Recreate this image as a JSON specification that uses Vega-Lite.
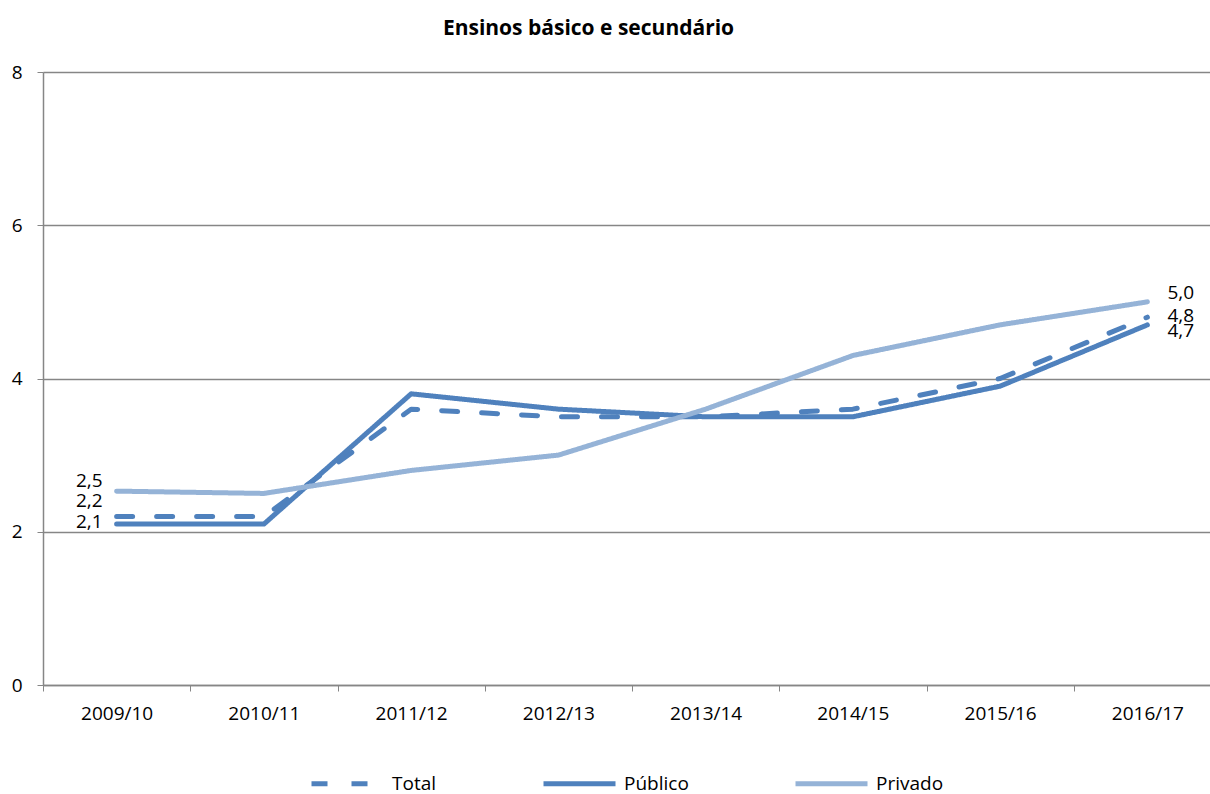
{
  "$schema": "https://vega.github.io/schema/vega-lite/v6.json",
  "autosize": {"type": "none"},
  "width": 1167,
  "height": 613,
  "padding": {"left": 43, "top": 72, "right": 0, "bottom": 109},
  "background": "white",
  "config": {
    "locale": {"number": {"decimal": ",", "thousands": ".", "grouping": [3], "currency": ["", " €"]}},
    "view": {"stroke": null},
    "font": "Open Sans"
  },
  "title": {
    "text": "Ensinos básico e secundário",
    "fontSize": 21,
    "fontWeight": "bold",
    "font": "Open Sans",
    "color": "black",
    "anchor": "middle",
    "dx": -38,
    "offset": 24
  },
  "data": {
    "values": [
      {"ano": "2009/10", "serie": "Total", "valor": 2.2},
      {"ano": "2010/11", "serie": "Total", "valor": 2.2},
      {"ano": "2011/12", "serie": "Total", "valor": 3.6},
      {"ano": "2012/13", "serie": "Total", "valor": 3.5},
      {"ano": "2013/14", "serie": "Total", "valor": 3.5},
      {"ano": "2014/15", "serie": "Total", "valor": 3.6},
      {"ano": "2015/16", "serie": "Total", "valor": 4.0},
      {"ano": "2016/17", "serie": "Total", "valor": 4.8},
      {"ano": "2009/10", "serie": "Público", "valor": 2.1},
      {"ano": "2010/11", "serie": "Público", "valor": 2.1},
      {"ano": "2011/12", "serie": "Público", "valor": 3.8},
      {"ano": "2012/13", "serie": "Público", "valor": 3.6},
      {"ano": "2013/14", "serie": "Público", "valor": 3.5},
      {"ano": "2014/15", "serie": "Público", "valor": 3.5},
      {"ano": "2015/16", "serie": "Público", "valor": 3.9},
      {"ano": "2016/17", "serie": "Público", "valor": 4.7},
      {"ano": "2009/10", "serie": "Privado", "valor": 2.53},
      {"ano": "2010/11", "serie": "Privado", "valor": 2.5},
      {"ano": "2011/12", "serie": "Privado", "valor": 2.8},
      {"ano": "2012/13", "serie": "Privado", "valor": 3.0},
      {"ano": "2013/14", "serie": "Privado", "valor": 3.6},
      {"ano": "2014/15", "serie": "Privado", "valor": 4.3},
      {"ano": "2015/16", "serie": "Privado", "valor": 4.7},
      {"ano": "2016/17", "serie": "Privado", "valor": 5.0}
    ]
  },
  "encoding": {
    "x": {
      "field": "ano",
      "type": "nominal",
      "sort": null,
      "title": null,
      "scale": {"type": "band", "paddingInner": 0, "paddingOuter": 0, "range": [0, 1178]},
      "axis": {
        "labelAngle": 0,
        "labelFontSize": 19,
        "labelColor": "black",
        "labelFont": "Open Sans",
        "labelPadding": 13,
        "tickBand": "extent",
        "tickSize": 6,
        "tickColor": "#868686",
        "domainColor": "#868686",
        "domainWidth": 1.5,
        "grid": false
      }
    },
    "y": {
      "field": "valor",
      "type": "quantitative",
      "title": null,
      "scale": {"domain": [0, 8], "nice": false, "zero": true},
      "axis": {
        "values": [0, 2, 4, 6, 8],
        "format": "d",
        "labelFontSize": 19,
        "labelColor": "black",
        "labelFont": "Open Sans",
        "labelPadding": 15,
        "tickSize": 6,
        "tickColor": "#868686",
        "domainColor": "#868686",
        "domainWidth": 1.5,
        "gridColor": "#868686",
        "gridWidth": 1.5
      }
    }
  },
  "layer": [
    {
      "mark": {"type": "line", "strokeWidth": 5, "strokeCap": "round", "strokeJoin": "round"},
      "encoding": {
        "color": {
          "field": "serie",
          "type": "nominal",
          "scale": {"domain": ["Total", "Público", "Privado"], "range": ["#4F81BD", "#4F81BD", "#95B3D7"]},
          "legend": {
            "title": null,
            "orient": "none",
            "direction": "horizontal",
            "legendX": 266,
            "legendY": 673,
            "symbolType": "stroke",
            "symbolSize": 5184,
            "symbolStrokeWidth": 5,
            "labelFontSize": 19,
            "labelFont": "Open Sans",
            "labelColor": "black",
            "labelOffset": 6,
            "columnPadding": 96,
            "padding": 0,
            "symbolOffset": 0
          }
        },
        "strokeDash": {
          "field": "serie",
          "type": "nominal",
          "scale": {"domain": ["Total", "Público", "Privado"], "range": [[16, 24], [1, 0], [1, 0]]},
          "legend": null
        }
      }
    },
    {
      "transform": [{"filter": "datum.ano === '2009/10' && datum.serie === 'Privado'"}],
      "mark": {"type": "text", "align": "right", "baseline": "middle", "dx": -14, "dy": -10, "fontSize": 19, "font": "Open Sans", "color": "black"},
      "encoding": {"text": {"field": "valor", "type": "quantitative", "format": ".1f"}}
    },
    {
      "transform": [{"filter": "datum.ano === '2009/10' && datum.serie === 'Total'"}],
      "mark": {"type": "text", "align": "right", "baseline": "middle", "dx": -14, "dy": -15, "fontSize": 19, "font": "Open Sans", "color": "black"},
      "encoding": {"text": {"field": "valor", "type": "quantitative", "format": ".1f"}}
    },
    {
      "transform": [{"filter": "datum.ano === '2009/10' && datum.serie === 'Público'"}],
      "mark": {"type": "text", "align": "right", "baseline": "middle", "dx": -14, "dy": -2, "fontSize": 19, "font": "Open Sans", "color": "black"},
      "encoding": {"text": {"field": "valor", "type": "quantitative", "format": ".1f"}}
    },
    {
      "transform": [{"filter": "datum.ano === '2016/17' && datum.serie === 'Privado'"}],
      "mark": {"type": "text", "align": "left", "baseline": "middle", "dx": 20, "dy": -9, "fontSize": 19, "font": "Open Sans", "color": "black"},
      "encoding": {"text": {"field": "valor", "type": "quantitative", "format": ".1f"}}
    },
    {
      "transform": [{"filter": "datum.ano === '2016/17' && datum.serie === 'Total'"}],
      "mark": {"type": "text", "align": "left", "baseline": "middle", "dx": 20, "dy": -1, "fontSize": 19, "font": "Open Sans", "color": "black"},
      "encoding": {"text": {"field": "valor", "type": "quantitative", "format": ".1f"}}
    },
    {
      "transform": [{"filter": "datum.ano === '2016/17' && datum.serie === 'Público'"}],
      "mark": {"type": "text", "align": "left", "baseline": "middle", "dx": 20, "dy": 6, "fontSize": 19, "font": "Open Sans", "color": "black"},
      "encoding": {"text": {"field": "valor", "type": "quantitative", "format": ".1f"}}
    }
  ]
}
